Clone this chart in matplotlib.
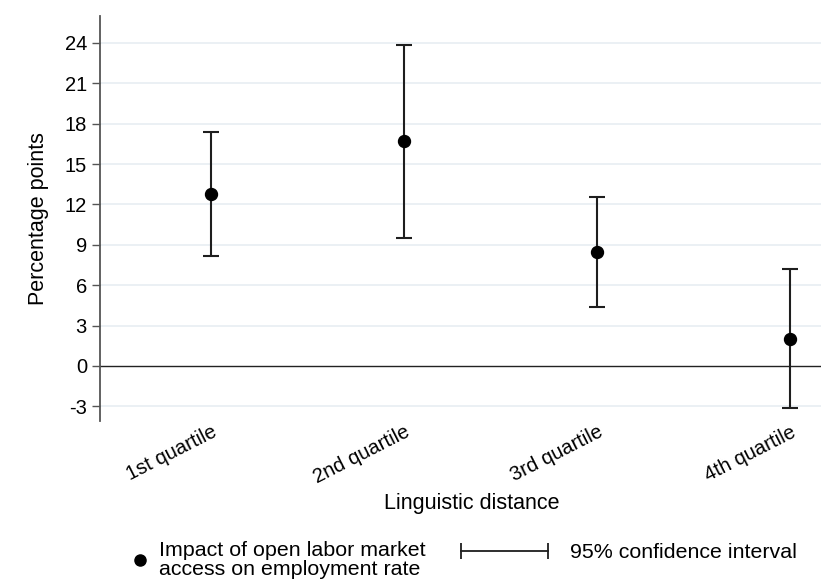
import matplotlib
matplotlib.use("Agg")
import matplotlib.pyplot as plt
from matplotlib.lines import Line2D
from matplotlib.legend_handler import HandlerLine2D

plt.rcParams['font.family'] = ['Liberation Sans', 'DejaVu Sans']

categories = ["1st quartile", "2nd quartile", "3rd quartile", "4th quartile"]
estimates = [12.76, 16.69, 8.49, 2.03]
ci_low = [8.15, 9.51, 4.41, -3.12]
ci_high = [17.36, 23.87, 12.56, 7.18]
yticks = [-3, 0, 3, 6, 9, 12, 15, 18, 21, 24]

W, H = 821, 580
fig = plt.figure(figsize=(W / 100, H / 100), dpi=100)
ax = fig.add_axes([100 / W, 1 - 421 / H, 721 / W, 405 / H])

x = list(range(1, len(categories) + 1))
yerr = [[e - l for e, l in zip(estimates, ci_low)],
        [h - e for e, h in zip(estimates, ci_high)]]

for yt in yticks:
    if yt != 0:
        ax.axhline(yt, color='#e9eff3', lw=1.3, zorder=0)
ax.axhline(0, color='#222222', lw=1.0, zorder=1)

ax.errorbar(x, estimates, yerr=yerr, fmt='none', ecolor='#1e1e1e', elinewidth=1.5,
            capsize=5.8, capthick=1.5, zorder=2)
ax.plot(x, estimates, 'o', color='black', markersize=8.6, zorder=3)

ax.set_xlim(0.425, 4.16)
ax.set_ylim(-4.09, 26.0)
ax.set_yticks(yticks)
ax.set_yticklabels([str(v) for v in yticks], fontsize=14.5)
ax.set_xticks(x)
ax.set_xticklabels(categories, rotation=27, ha='right', rotation_mode='anchor', fontsize=14.5)
ax.tick_params(axis='x', length=0, pad=1)
ax.tick_params(axis='y', length=6, color='#555555', width=1, pad=3.4)

for s in ['top', 'right', 'bottom']:
    ax.spines[s].set_visible(False)
ax.spines['left'].set_color('#555555')
ax.spines['left'].set_linewidth(1.3)

ax.set_ylabel("Percentage points", fontsize=15.5)
ax.yaxis.set_label_coords((49 - 100) / 721, 0.5)
ax.set_xlabel("Linguistic distance", fontsize=15.5)
ax.xaxis.set_label_coords((472 - 100) / 721, (421 - 493) / 405)

dot = Line2D([], [], color='black', marker='o', linestyle='none', markersize=8)
ci = Line2D([], [], color='#1e1e1e', marker='|', markersize=12, lw=1.3, markeredgewidth=1.3)

leg1 = fig.legend([dot], ["Impact of open labor market\naccess on employment rate"],
                  handler_map={dot: HandlerLine2D(numpoints=1)},
                  loc='center left', bbox_to_anchor=(131 / W, 1 - 560 / H),
                  frameon=False, fontsize=15.4, handlelength=0.85, handletextpad=0.45,
                  borderpad=0, borderaxespad=0)
for t in leg1.get_texts():
    t.set_linespacing(0.95)
leg2 = fig.legend([ci], ["95% confidence interval"],
                  handler_map={ci: HandlerLine2D(numpoints=2)},
                  loc='center left', bbox_to_anchor=(455 / W, 1 - 553 / H),
                  frameon=False, fontsize=15.4, handlelength=4.67, handletextpad=0.7,
                  borderpad=0, borderaxespad=0)

fig.savefig("out.png", dpi=100)
